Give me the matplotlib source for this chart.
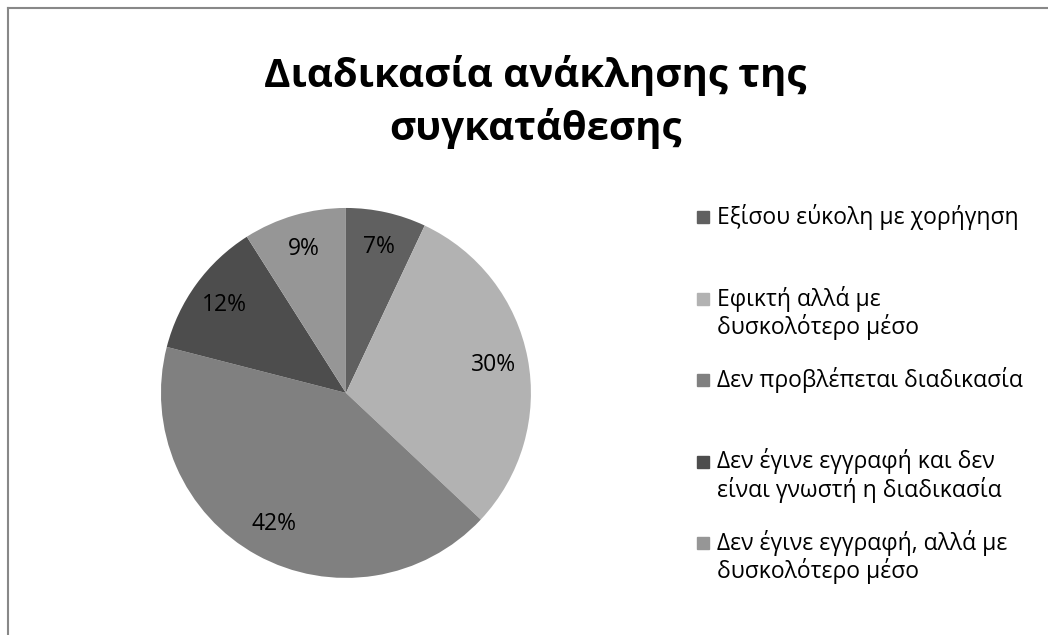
import matplotlib
matplotlib.use("Agg")
import matplotlib.pyplot as plt
from matplotlib.patches import Rectangle
from matplotlib.lines import Line2D

plt.rcParams['font.family'] = ['Open Sans', 'DejaVu Sans']

# ─── data ────────────────────────────────────────────────────────────────
TITLE  = "Διαδικασία ανάκλησης της\nσυγκατάθεσης"
LABELS = ["Εξίσου εύκολη με χορήγηση",
          "Εφικτή αλλά με\nδυσκολότερο μέσο",
          "Δεν προβλέπεται διαδικασία",
          "Δεν έγινε εγγραφή και δεν\nείναι γνωστή η διαδικασία",
          "Δεν έγινε εγγραφή, αλλά με\nδυσκολότερο μέσο"]
VALUES = [7, 30, 42, 12, 9]
COLORS = ["#606060", "#b2b2b2", "#808080", "#4d4d4d", "#969696"]

fig = plt.figure(figsize=(10.48, 6.35), dpi=100)

# chart-area frame (only top/left visible, as in the cropped original)
fig.add_artist(Line2D([7.5/1048, 7.5/1048], [0, 1 - 7.5/635], color="#888888", lw=1.5))
fig.add_artist(Line2D([7.5/1048, 1], [1 - 7.5/635, 1 - 7.5/635], color="#888888", lw=1.5))

fig.text(0.511, 1 - 102/635, TITLE, ha="center", va="center", fontsize=29,
         fontweight="bold", linespacing=1.4)

ax = fig.add_axes([0.1536, 0.0897, 0.353, 0.583])
ax.pie(VALUES, colors=COLORS, startangle=90, counterclock=False,
       autopct="%d%%", pctdistance=0.81,
       textprops=dict(fontsize=16.5, color="black"))
ax.set_xlim(-1, 1)
ax.set_ylim(-1, 1)
ax.set_aspect("equal")

# legend, Excel-style: entry tops evenly spaced
top0, step = 1 - 206/635, 81.5/635
sq = 12/1048
for i, (lab, col) in enumerate(zip(LABELS, COLORS)):
    y = top0 - i*step
    fig.add_artist(Rectangle((697/1048, y - 17/635), sq, 12/635, color=col,
                             transform=fig.transFigure))
    fig.text(717/1048, y + 2/635, lab, ha="left", va="top", fontsize=16.5,
             linespacing=1.12)

fig.savefig("out.png", dpi=100, facecolor="white")
